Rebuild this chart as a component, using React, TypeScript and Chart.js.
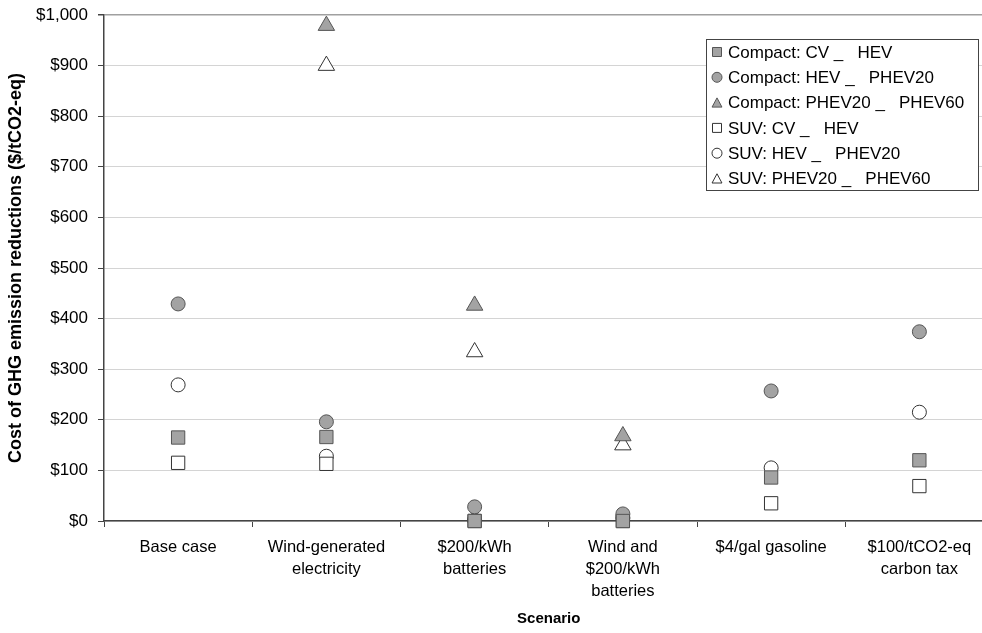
import React, { useEffect, useRef } from "react";
import { Chart, registerables } from "chart.js";

Chart.register(...registerables);

const scenarios: string[][] = [
  ["Base case"],
  ["Wind-generated", "electricity"],
  ["$200/kWh", "batteries"],
  ["Wind and", "$200/kWh", "batteries"],
  ["$4/gal gasoline"],
  ["$100/tCO2-eq", "carbon tax"],
];

const seriesLabels = [
  "Compact: CV _   HEV",
  "Compact: HEV _   PHEV20",
  "Compact: PHEV20 _   PHEV60",
  "SUV: CV _   HEV",
  "SUV: HEV _   PHEV20",
  "SUV: PHEV20 _   PHEV60",
];

const compactCvHev = [165, 166, 0, 0, 86, 120];
const compactHevPhev20 = [429, 196, 28, 14, 257, 374];
const compactPhev20Phev60 = [null, 979, 426, 168, null, null];
const suvCvHev = [115, 113, 0, 0, 35, 69];
const suvHevPhev20 = [269, 128, 2, 6, 105, 215];
const suvPhev20Phev60 = [null, 900, 334, 150, null, null];

const yTicksMax = 1000;
const yTickStep = 100;

const FONT = "'Liberation Sans', Arial, sans-serif";
const GRAY = "#a3a3a3";
const GRAY_EDGE = "#555555";
const OPEN_FILL = "#ffffff";
const OPEN_EDGE = "#333333";

type Style = { shape: "rect" | "circle" | "triangle"; fill: string; edge: string };
const styles: Style[] = [
  { shape: "rect", fill: GRAY, edge: GRAY_EDGE },
  { shape: "circle", fill: GRAY, edge: GRAY_EDGE },
  { shape: "triangle", fill: GRAY, edge: GRAY_EDGE },
  { shape: "rect", fill: OPEN_FILL, edge: OPEN_EDGE },
  { shape: "circle", fill: OPEN_FILL, edge: OPEN_EDGE },
  { shape: "triangle", fill: OPEN_FILL, edge: OPEN_EDGE },
];
const radii: Record<string, number> = { rect: 9.4, circle: 7, triangle: 9.5 };

function drawMarker(ctx: CanvasRenderingContext2D, shape: string, x: number, y: number, s: number) {
  ctx.beginPath();
  if (shape === "rect") {
    ctx.rect(x - s, y - s, 2 * s, 2 * s);
  } else if (shape === "circle") {
    ctx.arc(x, y, s, 0, Math.PI * 2);
  } else {
    ctx.moveTo(x, y - s * 1.05);
    ctx.lineTo(x + s * 1.1, y + s);
    ctx.lineTo(x - s * 1.1, y + s);
    ctx.closePath();
  }
  ctx.fill();
  ctx.stroke();
}

const boxLegend = {
  id: "boxLegend",
  afterDraw(chart: any) {
    const ctx: CanvasRenderingContext2D = chart.ctx;
    const area = chart.chartArea;
    const w = 272;
    const h = 151;
    const x0 = Math.round(area.right - 16 - w);
    const y0 = Math.round(area.top + 24);
    ctx.save();
    ctx.fillStyle = "#ffffff";
    ctx.fillRect(x0, y0, w, h);
    ctx.strokeStyle = "#444444";
    ctx.lineWidth = 1;
    ctx.strokeRect(x0 + 0.5, y0 + 0.5, w, h);
    chart.data.datasets.forEach((ds: any, i: number) => {
      const st = styles[i];
      const cy = y0 + 13 + i * 25.3;
      const cx = x0 + 11;
      ctx.fillStyle = st.fill;
      ctx.strokeStyle = st.edge;
      ctx.lineWidth = 1;
      drawMarker(ctx, st.shape, cx, cy, st.shape === "circle" ? 5 : 4.5);
      ctx.fillStyle = "#000000";
      ctx.font = `17px ${FONT}`;
      ctx.textAlign = "left";
      ctx.textBaseline = "middle";
      ctx.fillText(ds.label, cx + 11, cy + 1);
    });
    ctx.restore();
  },
};

export default function App() {
  const ref = useRef<HTMLCanvasElement | null>(null);

  useEffect(() => {
    if (!ref.current) return;
    const series = [
      compactCvHev,
      compactHevPhev20,
      compactPhev20Phev60,
      suvCvHev,
      suvHevPhev20,
      suvPhev20Phev60,
    ];
    const chart = new Chart(ref.current, {
      type: "line",
      data: {
        labels: scenarios,
        datasets: series.map((d, i) => ({
          label: seriesLabels[i],
          data: d,
          showLine: false,
          clip: false,
          pointStyle: styles[i].shape,
          pointRadius: radii[styles[i].shape],
          pointHoverRadius: radii[styles[i].shape],
          pointBackgroundColor: styles[i].fill,
          pointBorderColor: styles[i].edge,
          pointBorderWidth: 1,
          backgroundColor: styles[i].fill,
          borderColor: styles[i].edge,
        })),
      },
      options: {
        animation: false,
        responsive: false,
        devicePixelRatio: 1,
        layout: { padding: { left: 0, right: 0, top: 15, bottom: 0 } },
        plugins: {
          legend: { display: false },
          tooltip: { enabled: false },
        },
        scales: {
          x: {
            type: "category",
            offset: true,
            grid: {
              offset: true,
              drawOnChartArea: false,
              drawTicks: true,
              tickLength: 6,
              tickColor: "#444444",
            },
            border: { color: "#444444", width: 1.5 },
            ticks: {
              color: "#000000",
              font: { family: FONT, size: 16.5, lineHeight: "22px" },
              padding: 9,
              maxRotation: 0,
              autoSkip: false,
            },
            title: {
              display: true,
              text: "Scenario",
              color: "#000000",
              font: { family: FONT, size: 15, weight: "bold" },
              padding: { top: 0, bottom: 5 },
            },
            afterFit(scale: any) {
              scale.height = 112;
              scale.paddingLeft = 0;
              scale.paddingRight = 0;
            },
          },
          y: {
            min: 0,
            max: yTicksMax,
            ticks: {
              stepSize: yTickStep,
              color: "#000000",
              font: { family: FONT, size: 17 },
              padding: 10,
              callback: (v: any) => "$" + Number(v).toLocaleString("en-US"),
            },
            grid: {
              color: (c: any) => (c.tick && c.tick.value === yTicksMax ? "#a0a0a0" : "#d4d4d4"),
              lineWidth: (c: any) => (c.tick && c.tick.value === yTicksMax ? 1.5 : 1),
              tickColor: "#444444",
              tickLength: 6,
            },
            border: { color: "#444444", width: 1.5 },
            title: {
              display: true,
              text: "Cost of GHG emission reductions ($/tCO2-eq)",
              color: "#000000",
              font: { family: FONT, size: 18, weight: "bold" },
              padding: { top: 5, bottom: 0 },
            },
            afterFit(scale: any) {
              scale.width = 104;
              scale.paddingTop = 0;
              scale.paddingBottom = 0;
            },
          },
        },
      },
      plugins: [boxLegend],
    } as any);
    return () => chart.destroy();
  }, []);

  return (
    <div
      style={{
        position: "absolute",
        left: 0,
        top: 0,
        width: 982,
        height: 633,
        overflow: "hidden",
        background: "#ffffff",
      }}
    >
      <canvas ref={ref} width={1004} height={633} style={{ display: "block" }} />
    </div>
  );
}
